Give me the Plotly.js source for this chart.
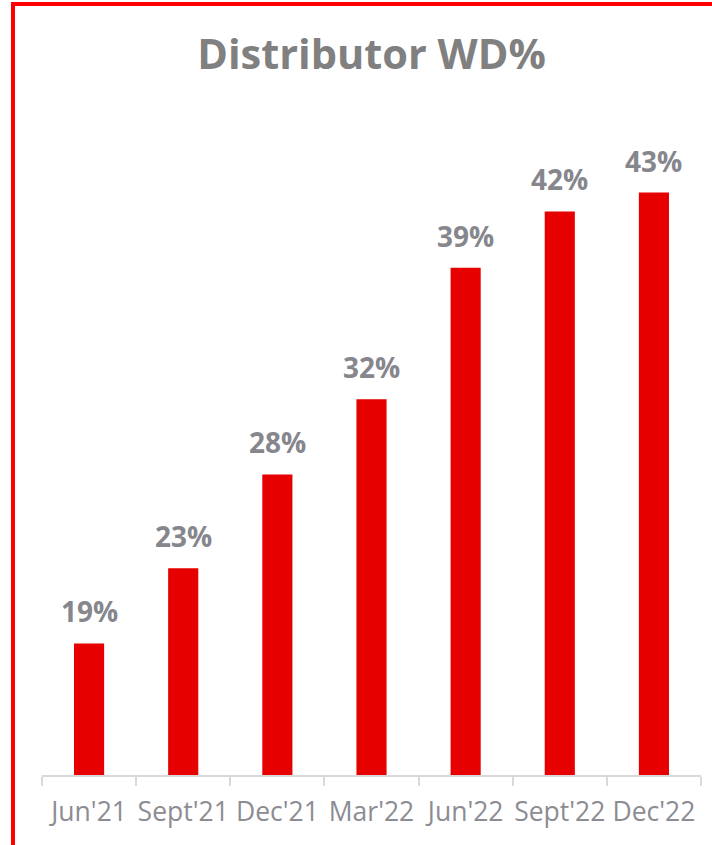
<!DOCTYPE html>
<html>
<head>
<meta charset="utf-8">
<script src="https://cdn.plot.ly/plotly-3.0.1.min.js"></script>
<style>
html,body{margin:0;padding:0;background:#fff;overflow:hidden;}
#chart{width:712px;height:845px;position:absolute;left:0;top:0;}
#frame{position:absolute;left:11px;top:2px;width:800px;height:900px;border-left:4px solid #FF0000;border-top:4px solid #FF0000;pointer-events:none;}
</style>
</head>
<body>
<div id="chart"></div>
<div id="frame"></div>
<script>
const categories = ["Jun'21", "Sept'21", "Dec'21", "Mar'22", "Jun'22", "Sept'22", "Dec'22"];
const wdPercent = [19, 23, 28, 32, 39, 42, 43];
const labels = wdPercent.map(v => v + '%');

const trace = {
  type: 'bar',
  x: categories,
  y: wdPercent,
  marker: {color: '#E60000'},
  hoverinfo: 'skip'
};

const annotations = categories.map((c, i) => ({
  x: c, y: wdPercent[i], xref: 'x', yref: 'y',
  text: labels[i], showarrow: false,
  yanchor: 'bottom', yshift: 11,
  font: {family: 'Open Sans, sans-serif', size: 28, color: '#86868D', weight: 'bold'}
}));

const layout = {
  width: 712, height: 845,
  margin: {l: 42, r: 11, t: 140, b: 70},
  paper_bgcolor: '#FFFFFF', plot_bgcolor: '#FFFFFF',
  bargap: 0.68,
  showlegend: false,
  title: {
    text: '<b>Distributor WD%</b>',
    font: {family: 'Open Sans, sans-serif', size: 41.5, color: '#808080'},
    x: 0.5, xref: 'paper', xanchor: 'center',
    y: 1 - 54/845, yref: 'container', yanchor: 'middle'
  },
  xaxis: {
    type: 'category',
    showline: true, linecolor: '#D9D9D9', linewidth: 2,
    ticks: 'outside', tickson: 'boundaries', ticklen: 9, tickcolor: '#D9D9D9', tickwidth: 2,
    tickangle: 0, ticklabelstandoff: 12,
    tickfont: {family: 'Open Sans, sans-serif', size: 26.5, color: '#8C8C93'},
    showgrid: false, zeroline: false, fixedrange: true
  },
  yaxis: {
    range: [12, 45.8],
    visible: false, showgrid: false, zeroline: false, fixedrange: true
  },
  annotations: annotations
};

Plotly.newPlot('chart', [trace], layout, {displayModeBar: false, staticPlot: true});
</script>
</body>
</html>
